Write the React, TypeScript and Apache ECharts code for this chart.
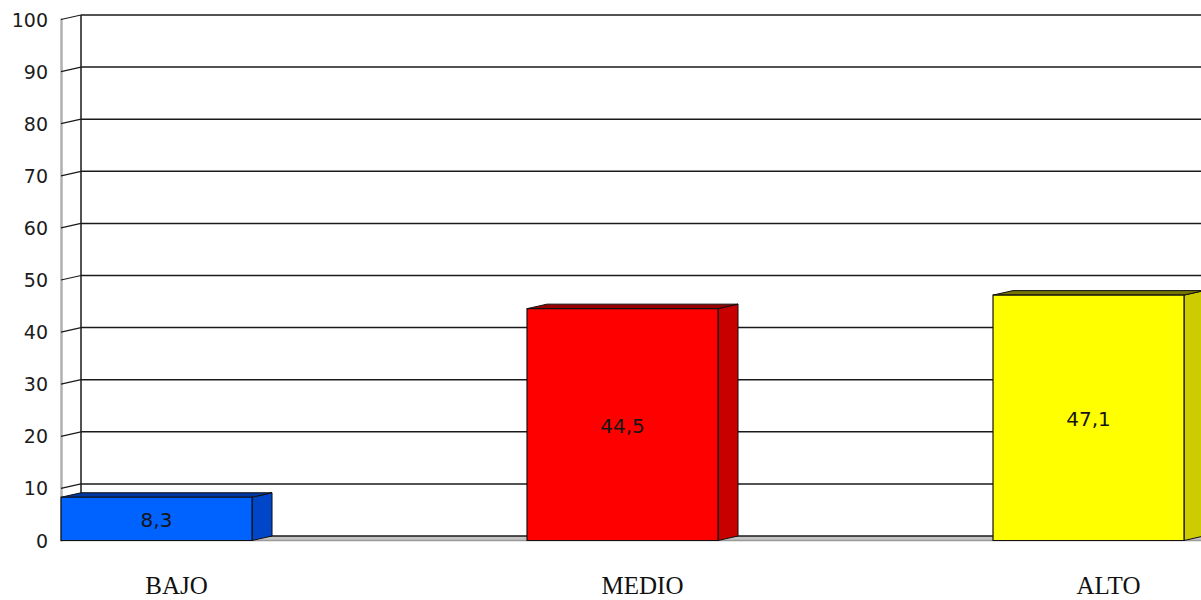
import React, { useEffect, useRef } from "react";
import * as echarts from "echarts";

const categories: string[] = ["BAJO", "MEDIO", "ALTO"];
const values: number[] = [8.3, 44.5, 47.1];
const yTickValues: number[] = [0, 10, 20, 30, 40, 50, 60, 70, 80, 90, 100];
const categoryPositions: number[] = [0, 1, 2];

const palette = [
  { front: "#0062ff", side: "#0046c8", top: "#0038a0" },
  { front: "#ff0000", side: "#c80000", top: "#990000" },
  { front: "#ffff00", side: "#cccc00", top: "#757500" },
];

const DX = 20;
const DY = 4.5;
const BAR_RATIO = 191 / 466;
// x range (in category units) visible in the plot
const X_MIN = -0.205;
const X_MAX = 2.2414;

const fmt = (v: number) => String(v).replace(".", ",");

export default function App() {
  const ref = useRef<HTMLDivElement>(null);

  useEffect(() => {
    if (!ref.current) return;
    const chart = echarts.init(ref.current, undefined, { renderer: "svg" });

    const wallData = yTickValues.map((v) => [X_MIN, v]);
    const barData = values.map((v, i) => [categoryPositions[i], v]);

    const option: any = {
      animation: false,
      backgroundColor: "#ffffff",
      grid: {
        left: 61,
        right: 0,
        top: 19.5,
        bottom: 59.5,
        containLabel: false,
        outerBoundsMode: "none",
      },
      xAxis: {
        type: "value",
        min: X_MIN,
        max: X_MAX,
        axisLine: { show: false, onZero: false },
        axisTick: { show: false },
        splitLine: { show: false },
        axisLabel: {
          customValues: categoryPositions,
          formatter: (val: number) => categories[Math.round(val)] ?? "",
          fontFamily: "Liberation Serif",
          fontSize: 25,
          lineHeight: 20,
          color: "#111111",
          margin: 35,
          padding: [0, 0, 0, 40],
          showMinLabel: true,
          showMaxLabel: true,
        },
      },
      yAxis: {
        type: "value",
        min: 0,
        max: 100,
        interval: 10,
        axisLine: { show: true, onZero: false, lineStyle: { color: "#b0b0b0", width: 2.5 } },
        axisTick: { show: false },
        splitLine: { show: false },
        axisLabel: {
          fontFamily: "DejaVu Sans",
          fontSize: 19,
          color: "#1c1c1c",
          margin: 13,
        },
      },
      series: [
        {
          type: "custom",
          z: 1,
          data: wallData,
          encode: { x: 0, y: 1 },
          renderItem: (params: any, api: any) => {
            const v = api.value(1);
            const [wallX, yF] = api.coord([X_MIN, v]);
            const rightEnd = api.coord([X_MAX, v])[0] + 200;
            const yB = yF - DY;
            const children: any[] = [];
            if (params.dataIndex === 0) {
              const yTopF = api.coord([X_MIN, 100])[1];
              children.push({
                type: "polygon",
                shape: {
                  points: [
                    [wallX, yF],
                    [rightEnd, yF],
                    [rightEnd + DX, yB],
                    [wallX + DX, yB],
                  ],
                },
                style: { fill: "#c4c4c4" },
              });
              children.push({
                type: "line",
                shape: { x1: wallX, y1: yF, x2: rightEnd, y2: yF },
                style: { stroke: "#9a9a9a", lineWidth: 1.5 },
              });
              children.push({
                type: "line",
                shape: { x1: wallX + DX, y1: yB, x2: wallX + DX, y2: yTopF - DY },
                style: { stroke: "#1a1a1a", lineWidth: 1.5 },
              });
            }
            children.push({
              type: "line",
              shape: { x1: wallX + DX, y1: yB, x2: rightEnd + DX, y2: yB },
              style: { stroke: "#1a1a1a", lineWidth: 1.5 },
            });
            children.push({
              type: "line",
              shape: { x1: wallX, y1: yF, x2: wallX + DX, y2: yB },
              style: { stroke: "#1a1a1a", lineWidth: 1.2 },
            });
            return { type: "group", children };
          },
        },
        {
          type: "custom",
          z: 3,
          data: barData,
          encode: { x: 0, y: 1 },
          renderItem: (params: any, api: any) => {
            const idx = api.value(0);
            const v = api.value(1);
            const [cx, yTop] = api.coord([idx, v]);
            const yBase = api.coord([idx, 0])[1];
            const unit = api.size([1, 0])[0];
            const w = unit * BAR_RATIO;
            const x0 = cx - w / 2;
            const x1 = cx + w / 2;
            const c = palette[params.dataIndex % palette.length];
            return {
              type: "group",
              children: [
                {
                  type: "polygon",
                  shape: {
                    points: [
                      [x1, yBase],
                      [x1 + DX, yBase - DY],
                      [x1 + DX, yTop - DY],
                      [x1, yTop],
                    ],
                  },
                  style: { fill: c.side, stroke: "#111111", lineWidth: 1 },
                },
                {
                  type: "polygon",
                  shape: {
                    points: [
                      [x0, yTop],
                      [x0 + DX, yTop - DY],
                      [x1 + DX, yTop - DY],
                      [x1, yTop],
                    ],
                  },
                  style: { fill: c.top, stroke: "#111111", lineWidth: 1 },
                },
                {
                  type: "rect",
                  shape: { x: x0, y: yTop, width: w, height: yBase - yTop },
                  style: { fill: c.front, stroke: "#111111", lineWidth: 1.2 },
                },
                {
                  type: "text",
                  x: cx,
                  y: (yTop + yBase) / 2 + 1,
                  style: {
                    text: fmt(v),
                    fill: "#151515",
                    fontFamily: "DejaVu Sans",
                    fontSize: 20,
                    align: "center",
                    verticalAlign: "middle",
                  },
                },
              ],
            };
          },
        },
      ],
    };

    chart.setOption(option);
    return () => chart.dispose();
  }, []);

  return (
    <div
      ref={ref}
      style={{ position: "fixed", left: 0, top: 0, width: "1201px", height: "600px" }}
    />
  );
}
